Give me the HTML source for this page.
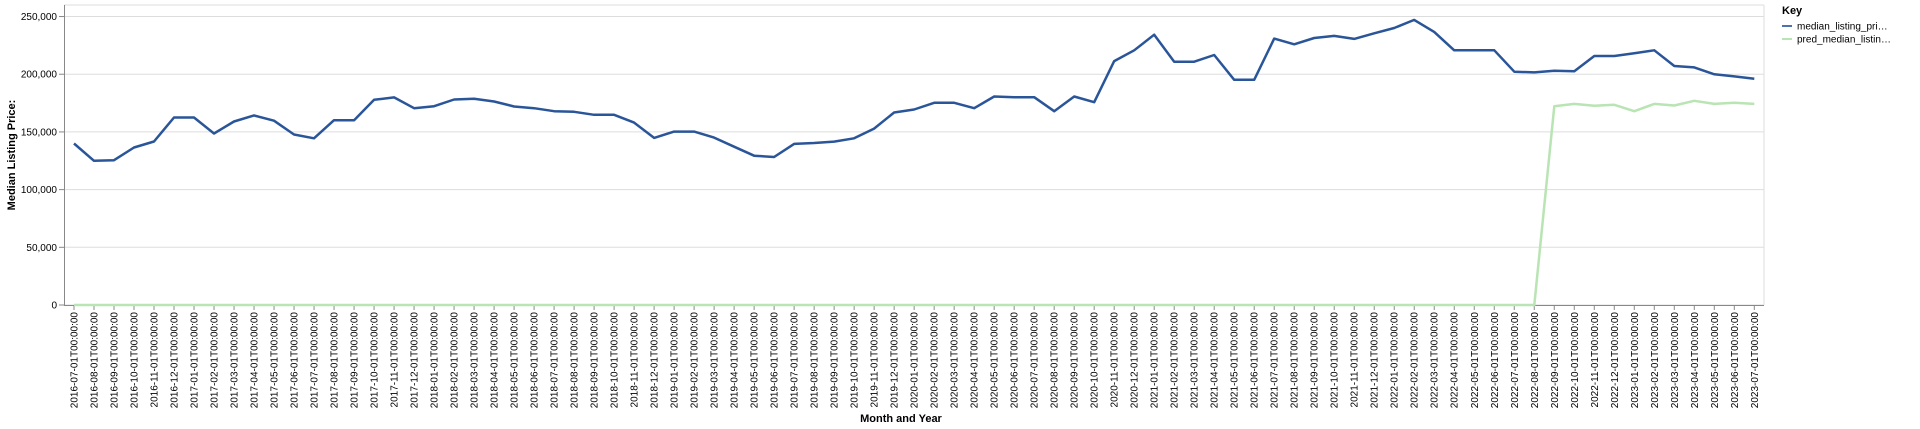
<!DOCTYPE html>
<html><head><meta charset="utf-8"><style>
html,body{margin:0;padding:0;background:#fff;}
svg{display:block;font-family:"Liberation Sans",Arial,sans-serif;}
</style></head><body>
<svg id="chart" width="1920" height="429" viewBox="0 0 1920 429" xmlns="http://www.w3.org/2000/svg">
<g id="grid"></g>
<g id="yaxis"></g>
<g id="xaxis"></g>
<g id="series"></g>
<text transform="translate(15,155) rotate(-90)" text-anchor="middle" font-size="11" font-weight="bold" fill="#000">Median Listing Price:</text>
<text x="901" y="422" text-anchor="middle" font-size="11" font-weight="bold" fill="#000">Month and Year</text>
<g>
<text x="1782" y="14" font-size="11" font-weight="bold" fill="#000">Key</text>
<g>
<line x1="1782" y1="26" x2="1792" y2="26" stroke="#4c72b0" stroke-width="2"/>
<text x="1797" y="29.5" font-size="10" fill="#000">median_listing_pri…</text>
</g>
<g>
<line x1="1782" y1="39" x2="1792" y2="39" stroke="#b9e4b3" stroke-width="2"/>
<text x="1797" y="42.5" font-size="10" fill="#000">pred_median_listin…</text>
</g>
</g>
</svg>
<script>
const yTicks = [0, 50000, 100000, 150000, 200000, 250000];
const startYear = 2016, startMonth = 7, monthCount = 85;
const median = [140000,125000,125500,136500,141700,162500,162500,148600,159000,164300,159700,147800,144500,160200,160200,177800,179900,170600,172300,178100,178700,176400,172000,170600,168000,167400,164800,164800,158100,144800,150300,150300,145100,137200,129400,128300,139600,140400,141600,144500,152900,166800,169400,175200,175200,170600,180700,180100,180100,168000,180700,175800,211400,220700,234300,210900,210900,216700,195200,195200,230900,225900,231400,233200,230600,235500,240100,247100,236700,220700,220700,220700,202200,201600,203000,202500,215800,215800,218100,220700,207100,205900,199900,198100,196100];
const predFlat = [0,0,0,0,0,0,0,0,0,0,0,0,0,0,0,0,0,0,0,0,0,0,0,0,0,0,0,0,0,0,0,0,0,0,0,0,0,0,0,0,0,0,0,0,0,0,0,0,0,0,0,0,0,0,0,0,0,0,0,0,0,0,0,0,0,0,0,0,0,0,0,0,0,0];
const predTail = [172300,174300,172600,173500,168000,174300,172900,177000,174300,175200,174300];
const pred = predFlat.concat(predTail);

const NS = "http://www.w3.org/2000/svg";
const L = 64, R = 1764, T = 5, B = 305;
const yMax = 260000;
function y(v){ return B - v / yMax * (B - T); }
function x(i){ return 74 + i * (1754.3 - 74) / (monthCount - 1); }
function mk(tag, attrs, parent){ const e = document.createElementNS(NS, tag); for (const k in attrs) e.setAttribute(k, attrs[k]); parent.appendChild(e); return e; }

const labels = [];
for (let i = 0; i < monthCount; i++) {
  const m = startMonth - 1 + i;
  const yr = startYear + Math.floor(m / 12), mo = m % 12 + 1;
  labels.push(yr + "-" + String(mo).padStart(2, "0") + "-01T00:00:00");
}

const grid = document.getElementById("grid"), ya = document.getElementById("yaxis"), xa = document.getElementById("xaxis"), se = document.getElementById("series");
yTicks.forEach(t => {
  const g = mk("line", {x1:L, x2:R, y1:y(t), y2:y(t), stroke:"#ddd", "stroke-width":1}, grid);
  
  
  mk("line", {x1:L-5, x2:L, y1:y(t), y2:y(t), stroke:"#888"}, ya);
  const tx = mk("text", {x:L-7, y:y(t)+3.5, "text-anchor":"end", "font-size":"10", fill:"#000"}, ya);
  tx.textContent = t.toLocaleString("en-US");
  
  
});
mk("line", {x1:R, x2:R, y1:T, y2:B, stroke:"#ddd"}, grid);
mk("line", {x1:L, x2:R, y1:T, y2:T, stroke:"#ddd"}, grid);
mk("line", {x1:L+0.5, x2:L+0.5, y1:T, y2:B, stroke:"#888"}, ya);
mk("line", {x1:L, x2:R, y1:B+0.5, y2:B+0.5, stroke:"#888"}, xa);
labels.forEach((lb, i) => {
  mk("line", {x1:x(i), x2:x(i), y1:B, y2:B+5, stroke:"#888"}, xa);
  const tx = mk("text", {transform:"translate(" + (x(i)+3.5) + "," + (B+7) + ") rotate(-90)", "text-anchor":"end", "font-size":"10", fill:"#000"}, xa);
  tx.textContent = lb;
  
  
});
function line(arr, color, name){
  const p = mk("path", {d: arr.map((v,i)=>(i?"L":"M")+x(i).toFixed(1)+","+y(v).toFixed(1)).join(""), fill:"none", stroke:color, "stroke-width":2.5, "stroke-linejoin":"round"}, se);
  
  
}
line(pred, "#b9e4b3", "pred-median-listing-price-line");
line(median, "#2a5599", "median-listing-price-line");
</script>
</body></html>
